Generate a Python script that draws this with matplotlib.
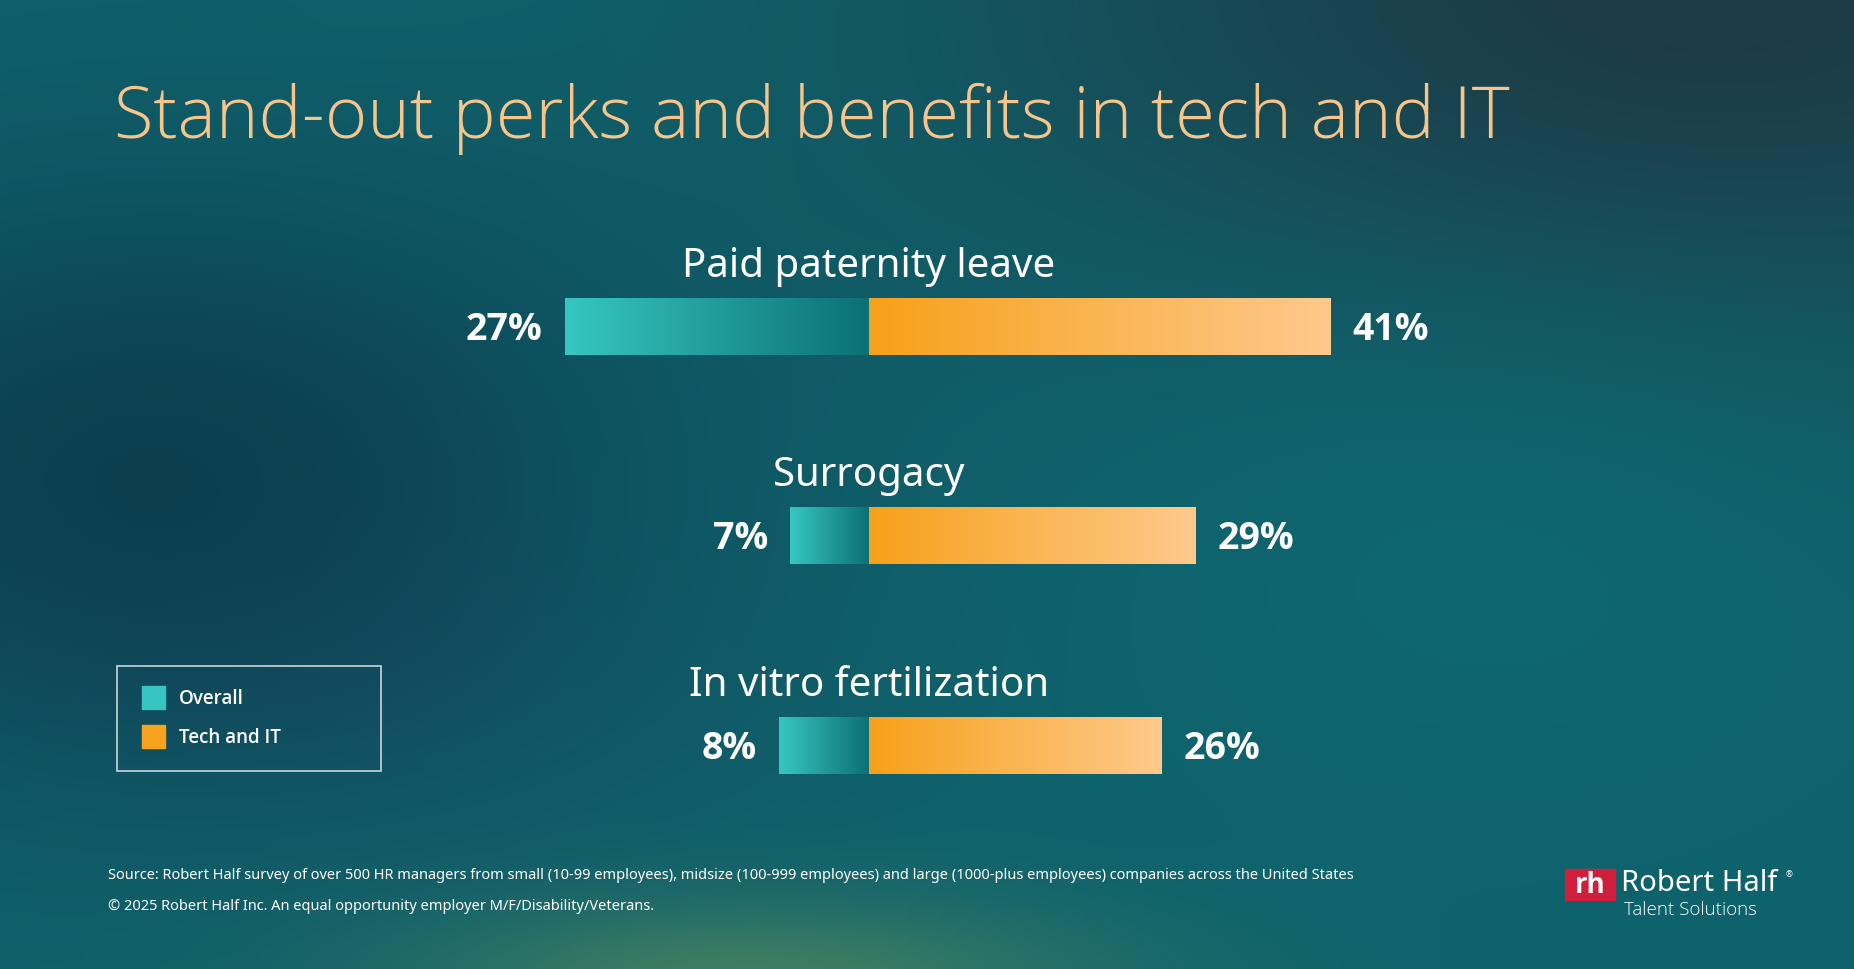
import numpy as np
import matplotlib.pyplot as plt
from matplotlib.patches import Rectangle
from matplotlib.colors import LinearSegmentedColormap

categories = ["Paid paternity leave", "Surrogacy", "In vitro fertilization"]
overall = [27, 7, 8]
tech_it = [41, 29, 26]

W, H = 1854, 970
fig = plt.figure(figsize=(W / 100, H / 100), dpi=100)

# background
bg = fig.add_axes([0, 0, 1, 1])
bg.set_xlim(0, W)
bg.set_ylim(H, 0)
bg.axis("off")
yy, xx = np.mgrid[0:H:4, 0:W:4]
base = np.array([0x0f, 0x62, 0x6c]) / 255.0
img = np.ones(yy.shape + (3,)) * base
def blob(cx, cy, sx, sy, col, amt):
    g = np.exp(-(((xx - cx) / sx) ** 2 + ((yy - cy) / sy) ** 2))
    return g[..., None] * amt * (np.array(col) / 255.0 - base)
img = img + blob(1700, 0, 700, 350, (0x1e, 0x36, 0x42), 0.9)
img = img + blob(150, 480, 500, 300, (0x0b, 0x36, 0x4a), 0.8)
img = img + blob(1500, 450, 400, 300, (0x0c, 0x6e, 0x76), 0.7)
img = img + blob(750, 980, 350, 80, (0x4a, 0x86, 0x60), 0.8)
img = img + blob(400, 700, 400, 150, (0x15, 0x5c, 0x6c), 0.6)
bg.imshow(np.clip(img, 0, 1), extent=[0, W, H, 0], aspect="auto", zorder=0)

# title
bg.text(114, 119, "Stand-out perks and benefits in tech and IT", fontsize=52,
        family="Open Sans", fontweight="light", color="#f6c58c", va="center", ha="left")

# bars
ax = fig.add_axes([306.5 / W, 0, 1125 / W, 1])
ax.set_xlim(-50, 50)
ax.set_ylim(3.067, -1.563)
ax.axis("off")
ax.patch.set_alpha(0)
teal = LinearSegmentedColormap.from_list("teal", ["#37c7c1", "#0c7075"])
orange = LinearSegmentedColormap.from_list("orange", ["#f7a11a", "#fec98c"])
grad = np.linspace(0, 1, 256)[None, :]
bh = 0.272
for i, (cat, o, t) in enumerate(zip(categories, overall, tech_it)):
    ax.imshow(grad, cmap=teal, extent=[-o, 0, i + bh / 2, i - bh / 2], aspect="auto")
    ax.imshow(grad, cmap=orange, extent=[0, t, i + bh / 2, i - bh / 2], aspect="auto")
    ax.text(0, i - 0.29, cat, ha="center", va="center", fontsize=29,
            family="Noto Sans", color="white")
    ax.text(-o - 2.0, i + 0.01, f"{o}%", ha="right", va="center", fontsize=27,
            family="Open Sans", fontweight="bold", color="white")
    ax.text(t + 2.0, i + 0.01, f"{t}%", ha="left", va="center", fontsize=27,
            family="Open Sans", fontweight="bold", color="white")

# legend
bg.add_patch(Rectangle((117, 667), 264, 105, fill=False, ec="#c9d6da", lw=1.2))
for y, c, lab in [(698, "#37c5c1", "Overall"), (737, "#f7a31e", "Tech and IT")]:
    bg.add_patch(Rectangle((142, y - 11), 23, 23, color=c))
    bg.text(179, y + 1, lab, fontsize=13.5, family="Open Sans", fontweight="semibold",
            color="white", va="center")

# footer
bg.text(108, 876, "Source: Robert Half survey of over 500 HR managers from small (10-99 employees), "
        "midsize (100-999 employees) and large (1000-plus employees) companies across the United States",
        fontsize=10.5, family="Noto Sans", color="white", va="center")
bg.text(108, 907, "© 2025 Robert Half Inc. An equal opportunity employer M/F/Disability/Veterans.",
        fontsize=10.5, family="Noto Sans", color="white", va="center")

# logo
bg.add_patch(Rectangle((1565, 870), 50, 31, color="#d01f3c"))
bg.text(1590, 886, "rh", fontsize=20, family="Open Sans", fontweight="bold",
        color="white", ha="center", va="center")
bg.text(1621, 884, "Robert Half", fontsize=21, family="Noto Sans", color="white", va="center")
bg.text(1786, 875, "®", fontsize=6, family="Noto Sans", color="white", va="center")
bg.text(1624, 910, "Talent Solutions", fontsize=13.5, family="Open Sans", fontweight="light",
        color="white", va="center")

fig.savefig("out.png", dpi=100)
